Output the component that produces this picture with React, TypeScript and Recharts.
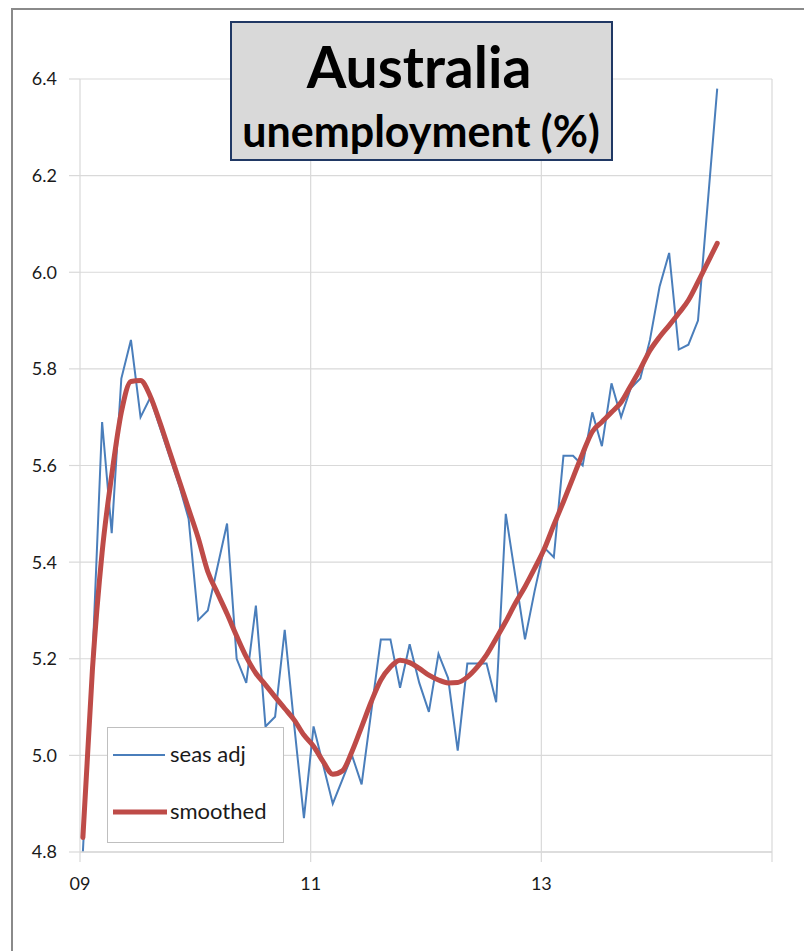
import React from "react";
import {
  LineChart,
  Line,
  XAxis,
  YAxis,
  CartesianGrid,
} from "recharts";

// Monthly unemployment rate, Jan 2009 .. Jul 2014
const SEAS_ADJ = [
  4.8, 5.2, 5.69, 5.46, 5.78, 5.86, 5.7, 5.74, 5.68, 5.62, 5.56, 5.49,
  5.28, 5.3, 5.39, 5.48, 5.2, 5.15, 5.31, 5.06, 5.08, 5.26, 5.06, 4.87,
  5.06, 4.98, 4.9, 4.95, 5.0, 4.94, 5.09, 5.24, 5.24, 5.14, 5.23, 5.15,
  5.09, 5.21, 5.16, 5.01, 5.19, 5.19, 5.19, 5.11, 5.5, 5.37, 5.24, 5.34,
  5.43, 5.41, 5.62, 5.62, 5.6, 5.71, 5.64, 5.77, 5.7, 5.76, 5.78, 5.86,
  5.97, 6.04, 5.84, 5.85, 5.9, 6.14, 6.38,
];

const SMOOTHED = [
  4.83, 5.18, 5.42, 5.58, 5.71, 5.774, 5.776, 5.744, 5.69, 5.63, 5.57, 5.51,
  5.45, 5.38, 5.336, 5.293, 5.247, 5.204, 5.17, 5.146, 5.121, 5.097, 5.073, 5.042,
  5.019, 4.987, 4.961, 4.968, 5.008, 5.059, 5.111, 5.156, 5.183, 5.197, 5.192, 5.18,
  5.166, 5.156, 5.15, 5.151, 5.162, 5.182, 5.208, 5.242, 5.277, 5.315, 5.349, 5.387,
  5.427, 5.477, 5.525, 5.575, 5.625, 5.67, 5.69, 5.71, 5.731, 5.765, 5.8, 5.838,
  5.866, 5.89, 5.915, 5.942, 5.98, 6.02, 6.06,
];

// x axis runs in months from Jan 2009; a label every second year
const YEAR_TICKS = [0, 24, 48, 72];
const YEAR_LABELS = ["09", "11", "13", ""];
const RATE_TICKS = [4.8, 5.0, 5.2, 5.4, 5.6, 5.8, 6.0, 6.2, 6.4];

const rows = SEAS_ADJ.map((v, i) => ({
  t: i + 0.3,
  seas: v,
  smooth: SMOOTHED[i],
}));

const BLUE = "#4a7ebb";
const RED = "#be4b48";
const GRID = "#d9d9d9";
const FONT = "Lato, 'Open Sans', sans-serif";

export default function App() {
  const W = 804;
  const H = 943;
  return (
    <div
      style={{
        position: "relative",
        width: W,
        height: H,
        overflow: "hidden",
        fontFamily: FONT,
        background: "#fff",
      }}
    >
      {/* outer chart frame, runs off the right and bottom */}
      <div
        style={{
          position: "absolute",
          left: 3,
          top: 0,
          width: 900,
          height: 1000,
          border: "2px solid #8a8a8a",
          boxSizing: "border-box",
        }}
      />
      <LineChart
        width={W}
        height={H}
        data={rows}
        margin={{ top: 71, right: 40, bottom: 59, left: 10 }}
      >
        <CartesianGrid stroke={GRID} strokeWidth={1.2} />
        <XAxis
          type="number"
          dataKey="t"
          domain={[0, 72]}
          ticks={YEAR_TICKS}
          interval={0}
          height={40}
          tickSize={10}
          tickMargin={15}
          tickFormatter={(v: number) => YEAR_LABELS[YEAR_TICKS.indexOf(v)] ?? ""}
          axisLine={{ stroke: GRID, strokeWidth: 1.5 }}
          tickLine={{ stroke: GRID, strokeWidth: 1.2 }}
          tick={{ fill: "#1a1a1a", fontSize: 18, fontFamily: FONT }}
        />
        <YAxis
          type="number"
          domain={[4.8, 6.4]}
          ticks={RATE_TICKS}
          interval={0}
          width={62}
          tickSize={11}
          tickMargin={12}
          tickFormatter={(v: number) => v.toFixed(1)}
          axisLine={false}
          tickLine={{ stroke: GRID, strokeWidth: 1.2 }}
          tick={{ fill: "#1a1a1a", fontSize: 18, fontFamily: FONT }}
        />
        <Line
          type="linear"
          dataKey="seas"
          stroke={BLUE}
          strokeWidth={2}
          dot={false}
          activeDot={false}
          isAnimationActive={false}
        />
        <Line
          type="monotone"
          dataKey="smooth"
          stroke={RED}
          strokeWidth={5}
          strokeLinecap="round"
          dot={false}
          activeDot={false}
          isAnimationActive={false}
        />
      </LineChart>

      {/* title box and legend drawn over the plot */}
      <svg
        width={W}
        height={H}
        style={{ position: "absolute", left: 0, top: 0, pointerEvents: "none" }}
      >
        <rect x={223} y={14} width={381} height={138} fill="#d9d9d9" stroke="#203864" strokeWidth={2} />
        <text x={411} y={80} textAnchor="middle" fontFamily={FONT} fontWeight={700} fontSize={57} fill="#000">
          Australia
        </text>
        <text x={413} y={139} textAnchor="middle" fontFamily={FONT} fontWeight={700} fontSize={43} fill="#000">
          unemployment (%)
        </text>

        <rect x={99.5} y={719.5} width={176} height={115} fill="#fff" stroke="#bfbfbf" strokeWidth={1} />
        <line x1={105} y1={747} x2={157} y2={747} stroke={BLUE} strokeWidth={2} />
        <text x={162} y={754} fontFamily={FONT} fontSize={22} fill="#1a1a1a">
          seas adj
        </text>
        <line x1={105} y1={804} x2={159} y2={804} stroke={RED} strokeWidth={5} />
        <text x={162} y={811} fontFamily={FONT} fontSize={22} fill="#1a1a1a">
          smoothed
        </text>
      </svg>
    </div>
  );
}
